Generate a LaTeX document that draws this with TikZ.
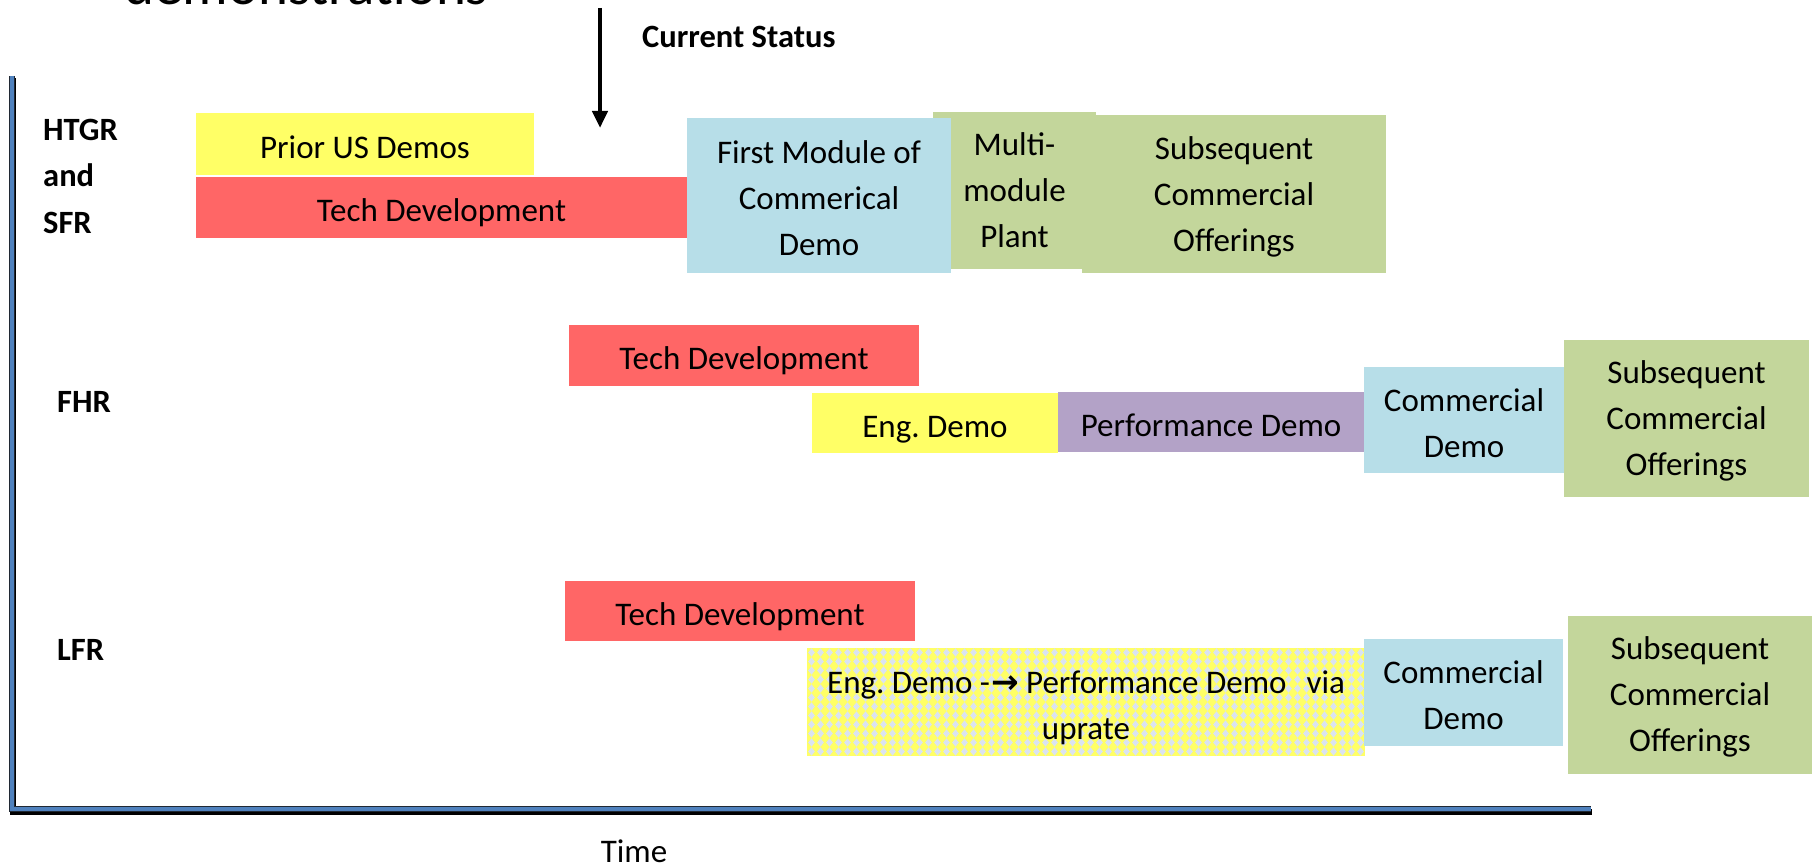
\documentclass[tikz,border=0pt]{standalone}
\usepackage{fontspec}
\setmainfont{Carlito}
\newfontfamily\arrowfont{DejaVu Sans}
\usetikzlibrary{arrows.meta}
\definecolor{yel}{HTML}{FFFF66}
\definecolor{redb}{HTML}{FF6666}
\definecolor{blueb}{HTML}{B7DEE8}
\definecolor{greenb}{HTML}{C3D69B}
\definecolor{purpb}{HTML}{B3A2C7}
\definecolor{diam}{HTML}{DAE3F0}
\definecolor{axblue}{HTML}{4F81BD}
\definecolor{axdark}{HTML}{202833}
\newcommand\barstrutht{42pt}
\begin{document}
\frenchspacing
\begin{tikzpicture}[x=1pt,y=-1pt,
  nl/.code={\renewcommand\barstrutht{#1pt}},
  bar/.style={rectangle, inner sep=0pt, outer sep=0pt, align=center, font=\fontsize{33}{46}\selectfont\frenchspacing,
    nl=42, execute at begin node={\rule[-7pt]{0pt}{\barstrutht}}},
  bx/.style 2 args={minimum width=#1pt, minimum height=#2pt},
  lbl/.style={inner sep=0pt, font=\fontsize{32.5}{46}\selectfont\bfseries},
  plain/.style={inner sep=0pt, font=\fontsize{33}{46}\selectfont}]
\useasboundingbox (0,0) rectangle (1812,864);
\clip (0,0) rectangle (1812,864);

% cut-off title
\node[inner sep=0pt, anchor=base west, font=\fontsize{57}{60}\selectfont] (title) at (124,4.5) {demonstrations};

% current status arrow
\coordinate (arrtop) at (600,8);
\coordinate (arrtip) at (600,128);
\draw[line width=4.5pt, -{Triangle[length=17pt,width=15pt]}] (arrtop) -- (arrtip);
\node[lbl, anchor=west] (cs) at (642,37) {Current Status};

% axes
\coordinate (axtop) at (12,76);
\coordinate (axorigin) at (12,809);
\coordinate (axend) at (1591,809);
\draw[line width=6pt, black] ([shift={(1,2.5)}]axtop) -- ([shift={(1,2.5)}]axorigin) -- ([shift={(1,2.5)}]axend);
\draw[line width=5.5pt, axdark] (axtop) -- (axorigin) -- (axend);
\draw[line width=3.5pt, axblue] (axtop) -- (axorigin) -- (axend);
\node[plain] (time) at (634,851) {Time};

% row labels
\node[lbl, anchor=base west] (lhtgr) at (43,140) {HTGR};
\node[lbl, anchor=base west] (land) at (43,186) {and};
\node[lbl, anchor=base west] (lsfr) at (43,233) {SFR};
\node[lbl, anchor=west] (lfhr) at (57,402) {FHR};
\node[lbl, anchor=west] (llfr) at (57,650) {LFR};

% HTGR and SFR row
\node[bar, fill=yel, bx={338}{62}] (prior) at (365,144) {Prior US Demos};
\node[bar, fill=redb, bx={491}{61}] (htd) at (441.5,207.5) {Tech Development};
\node[bar, nl=128, fill=greenb, bx={163}{157}] (multi) at (1014.5,190.5) {Multi-\\module\\Plant};
\node[bar, nl=128, fill=greenb, bx={304}{158}] (hsub) at (1234,194) {Subsequent\\Commercial\\Offerings};
\node[bar, nl=134, fill=blueb, bx={264}{155}] (first) at (819,195.5) {First Module of\\Commerical\\Demo};

% FHR row
\node[bar, fill=redb, bx={350}{61}] (ftd) at (744,355.5) {Tech Development};
\node[bar, fill=yel, bx={246}{60}] (feng) at (935,423) {Eng. Demo};
\node[bar, fill=purpb, bx={306}{60}] (fperf) at (1211,422) {Performance Demo};
\node[bar, nl=88, fill=blueb, bx={200}{106}] (fcom) at (1464,420) {Commercial\\Demo};
\node[bar, nl=128, fill=greenb, bx={245}{157}] (fsub) at (1686.5,418.5) {Subsequent\\Commercial\\Offerings};

% LFR row
\node[bar, fill=redb, bx={350}{60}] (ltd) at (740,611) {Tech Development};
\fill[yel] (807,648) rectangle (1365,756);
\fill[diam] \foreach \i in {0,...,61} { \foreach \j in {0,...,11} {
  (811.5+9*\i-3.3,652.5+9*\j) -- (811.5+9*\i,652.5+9*\j-4.2) -- (811.5+9*\i+3.3,652.5+9*\j) -- (811.5+9*\i,652.5+9*\j+4.2) -- cycle } };
\node[bar, nl=88, bx={558}{108}] (lperf) at (1086,702) {Eng. Demo -\kern1pt{\arrowfont\bfseries →} Performance Demo\hspace{20pt}via\\uprate};
\node[bar, nl=88, fill=blueb, bx={199}{107}] (lcom) at (1463.5,692.5) {Commercial\\Demo};
\node[bar, nl=126, fill=greenb, bx={244}{158}] (lsub) at (1690,695) {Subsequent\\Commercial\\Offerings};
\end{tikzpicture}
\end{document}
